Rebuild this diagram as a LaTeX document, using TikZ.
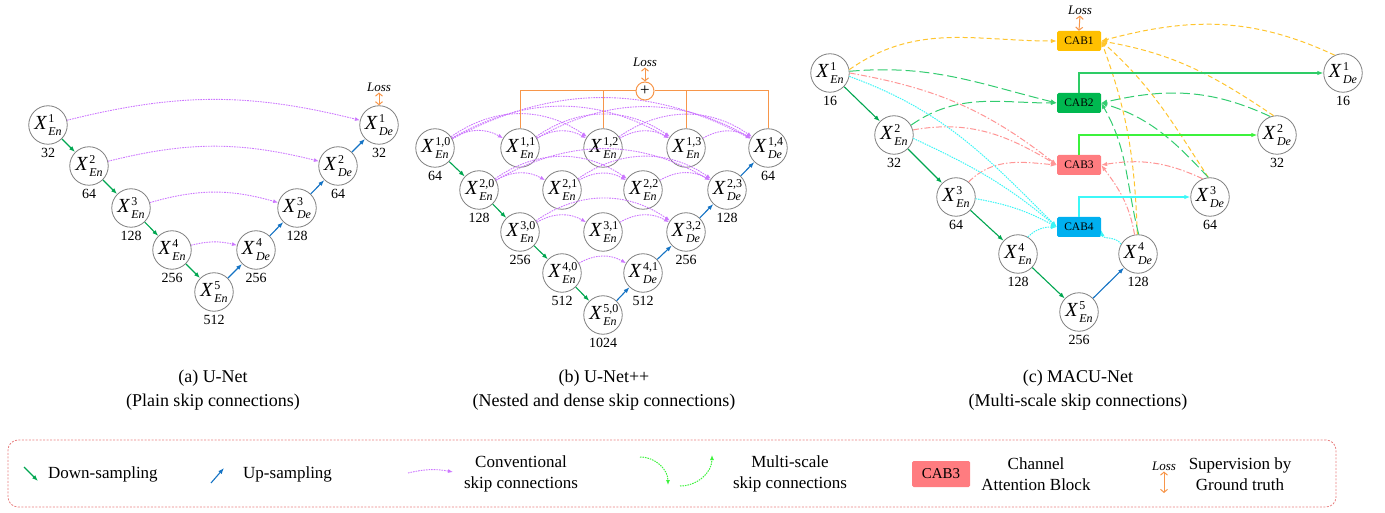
\documentclass[tikz,border=0pt]{standalone}
\usepackage{fontspec}
\setmainfont{Liberation Serif}
\usetikzlibrary{arrows.meta,calc}

\definecolor{cgray}{HTML}{808080}
\definecolor{cdown}{HTML}{00A650}
\definecolor{cup}{HTML}{1473C4}
\definecolor{cskip}{HTML}{CC77FF}
\definecolor{closs}{HTML}{F7964A}
\definecolor{cabA}{HTML}{FFC000}
\definecolor{cabB}{HTML}{00B850}
\definecolor{cabC}{HTML}{FF7C80}
\definecolor{cabD}{HTML}{00B0F0}
\definecolor{lineA}{HTML}{FFC52E}
\definecolor{lineB}{HTML}{33CC70}
\definecolor{lineC}{HTML}{FF9696}
\definecolor{lineD}{HTML}{3CF5F5}
\definecolor{outB}{HTML}{2ECC66}
\definecolor{outC}{HTML}{3CF23C}
\definecolor{outD}{HTML}{3CF8F8}
\definecolor{legframe}{HTML}{E88080}

% one feature map: italic X with level superscript and En/De subscript
\newcommand\xl[2]{\textit{X}\kern1.2pt%
  \rlap{\raisebox{7.3pt}{\fontsize{12}{12}\selectfont #1}}%
  \raisebox{-6.5pt}{\fontsize{12}{12}\selectfont\itshape #2}}
% name, x, y (downwards), superscript, subscript, channel count
\newcommand\mknode[6]{%
  \node[fmap] (#1) at (#2,-#3) {\xl{#4}{#5}};
  \node[chnum] (#1n) at (#2,-#3-28) {#6};}

\begin{document}
\begin{tikzpicture}[x=1pt,y=1pt,
  fmap/.style={circle, draw=cgray, line width=0.8pt, minimum size=38.5pt, inner sep=0pt, fill=white,
    font=\fontsize{20}{24}\selectfont},
  chnum/.style={inner sep=0pt, font=\fontsize{14}{16}\selectfont},
  arrtip/.style={-{Latex[length=6pt,width=4.5pt]}},
  dsamp/.style={draw=cdown, line width=1.1pt, arrtip},
  usamp/.style={draw=cup, line width=1.1pt, arrtip},
  skipc/.style={draw=cskip, line width=0.9pt, dash pattern=on 1.6pt off 1pt, -{Latex[length=5pt,width=4pt]}},
  lossarr/.style={draw=closs, line width=1pt,
    {Straight Barb[length=3pt,width=7pt]}-{Straight Barb[length=3pt,width=7pt]}},
  losst/.style={inner sep=1pt, font=\fontsize{13}{14}\selectfont\itshape},
  sumnode/.style={circle, draw=closs, line width=1pt, fill=white, minimum size=18pt, inner sep=0pt,
    font=\fontsize{17}{17}\selectfont},
  sumline/.style={draw=closs, line width=1pt},
  cabbox/.style={rectangle, rounded corners=1.5pt, minimum width=44pt, minimum height=20pt, inner sep=0pt,
    font=\fontsize{11.5}{13}\selectfont},
  msA/.style={draw=lineA, line width=1pt, dash pattern=on 5pt off 3pt, -{Latex[length=6pt,width=4.5pt]}},
  msB/.style={draw=lineB, line width=1pt, dash pattern=on 10pt off 4pt, -{Latex[length=6pt,width=4.5pt]}},
  msC/.style={draw=lineC, line width=1pt, dash pattern=on 6pt off 2pt on 1.5pt off 2pt, -{Latex[length=6pt,width=4.5pt]}},
  msD/.style={draw=lineD, line width=1pt, dash pattern=on 1.5pt off 1pt, -{Latex[length=6pt,width=4.5pt]}},
  captxt/.style={align=center, font=\fontsize{18}{24}\selectfont},
  legtxt/.style={align=center, inner sep=0pt, font=\fontsize{17}{21}\selectfont},
  legdot/.style={draw=outC, line width=1pt, dash pattern=on 1.5pt off 1pt, -{Latex[length=5pt,width=4pt]}}
]
\useasboundingbox (0,0) rectangle (1385,-513);

% ---------------- (a) U-Net ----------------
\mknode{e1}{48}{125}{1}{En}{32}
\mknode{e2}{89}{166}{2}{En}{64}
\mknode{e3}{131}{208}{3}{En}{128}
\mknode{e4}{172}{250}{4}{En}{256}
\mknode{e5}{214}{292}{5}{En}{512}
\mknode{d4}{256}{250}{4}{De}{256}
\mknode{d3}{297}{208}{3}{De}{128}
\mknode{d2}{338}{166}{2}{De}{64}
\mknode{d1}{379}{125}{1}{De}{32}

\draw[dsamp] (e1) -- (e2);
\draw[dsamp] (e2) -- (e3);
\draw[dsamp] (e3) -- (e4);
\draw[dsamp] (e4) -- (e5);
\draw[usamp] (e5) -- (d4);
\draw[usamp] (d4) -- (d3);
\draw[usamp] (d3) -- (d2);
\draw[usamp] (d2) -- (d1);

\draw[skipc] (e1) to[bend left=14] (d1);
\draw[skipc] (e2) to[bend left=14] (d2);
\draw[skipc] (e3) to[bend left=16] (d3);
\draw[skipc] (e4) to[bend left=14] (d4);

\node[losst] (lossa) at (379,-87) {Loss};
\draw[lossarr] (lossa.south) -- (d1.north);

\node[captxt] (capa) at (213,-390) {(a) U-Net\\(Plain skip connections)};

% ---------------- (b) U-Net++ ----------------
\mknode{b10}{435}{148}{1,0}{En}{64}
\mknode{b11}{520}{148}{1,1}{En}{}
\mknode{b12}{603}{148}{1,2}{En}{}
\mknode{b13}{686}{148}{1,3}{En}{}
\mknode{b14}{768}{148}{1,4}{De}{64}
\mknode{b20}{479}{190}{2,0}{En}{128}
\mknode{b21}{562}{190}{2,1}{En}{}
\mknode{b22}{643}{190}{2,2}{En}{}
\mknode{b23}{727}{190}{2,3}{De}{128}
\mknode{b30}{520}{232}{3,0}{En}{256}
\mknode{b31}{603}{232}{3,1}{En}{}
\mknode{b32}{686}{232}{3,2}{De}{256}
\mknode{b40}{562}{273}{4,0}{En}{512}
\mknode{b41}{643}{273}{4,1}{De}{512}
\mknode{b50}{603}{315}{5,0}{En}{1024}

\foreach \a/\b/\t in {b10/b11/30, b11/b12/30, b12/b13/30, b13/b14/30,
                      b10/b12/35, b11/b13/35, b12/b14/35,
                      b10/b13/30, b11/b14/30, b10/b14/28,
                      b20/b21/30, b21/b22/30, b22/b23/30,
                      b20/b22/35, b21/b23/35, b20/b23/30,
                      b30/b31/30, b31/b32/30, b30/b32/35,
                      b40/b41/30}
  \draw[skipc] (\a) to[bend left=\t] (\b);

\draw[dsamp] (b10) -- (b20);
\draw[dsamp] (b20) -- (b30);
\draw[dsamp] (b30) -- (b40);
\draw[dsamp] (b40) -- (b50);
\draw[usamp] (b50) -- (b41);
\draw[usamp] (b41) -- (b32);
\draw[usamp] (b32) -- (b23);
\draw[usamp] (b23) -- (b14);

\node[sumnode] (sum) at (645,-91) {+};
\draw[sumline] (b11.north) |- (sum.west);
\draw[sumline] (b12.north) |- (sum.west);
\draw[sumline] (b13.north) |- (sum.east);
\draw[sumline] (b14.north) |- (sum.east);
\node[losst] (lossb) at (645,-62) {Loss};
\draw[lossarr] (lossb.south) -- (sum.north);

\node[captxt] (capb) at (604,-390) {(b) U-Net++\\(Nested and dense skip connections)};

% ---------------- (c) MACU-Net ----------------
\mknode{c1}{830}{73}{1}{En}{16}
\mknode{c2}{894}{135}{2}{En}{32}
\mknode{c3}{956}{197}{3}{En}{64}
\mknode{c4}{1018}{254}{4}{En}{128}
\mknode{c5}{1079}{312}{5}{En}{256}
\mknode{f4}{1138}{254}{4}{De}{128}
\mknode{f3}{1210}{197}{3}{De}{64}
\mknode{f2}{1277}{135}{2}{De}{32}
\mknode{f1}{1343}{73}{1}{De}{16}

\node[cabbox, fill=cabA] (k1) at (1079,-41) {CAB1};
\node[cabbox, fill=cabB] (k2) at (1079,-103) {CAB2};
\node[cabbox, fill=cabC] (k3) at (1079,-165) {CAB3};
\node[cabbox, fill=cabD] (k4) at (1079,-227) {CAB4};

% multi-scale inputs of CAB1
\draw[msA] (c1.10) to[out=35,in=180] (k1.west);
\draw[msA] (f1.115) to[out=155,in=15] (k1.east);
\draw[msA] (f2.100) to[out=146,in=-10] (k1.east);
\draw[msA] (f3.95) to[out=123,in=-42] (k1.east);
\draw[msA] (f4.92) to[out=92,in=-70] (k1.east);
% multi-scale inputs of CAB2
\draw[msB] (c1.5) to[out=5,in=166] (k2.west);
\draw[msB] (c2.30) to[out=35,in=180] (k2.west);
\draw[msB] (f2.110) to[out=155,in=13] (k2.east);
\draw[msB] (f3.95) to[out=133,in=-17] (k2.east);
\draw[msB] (f4.88) to[out=104,in=-60] (k2.east);
% multi-scale inputs of CAB3
\draw[msC] (c1.0) to[out=-10,in=142] (k3.west);
\draw[msC] (c2.15) to[out=10,in=149] (k3.west);
\draw[msC] (c3.50) to[out=45,in=175] (k3.west);
\draw[msC] (f3.112) to[out=155,in=9] (k3.east);
\draw[msC] (f4.100) to[out=100,in=-53] (k3.east);
% multi-scale inputs of CAB4
\draw[msD] (c1.-10) to[out=-20,in=135] (k4.west);
\draw[msD] (c2.-10) to[out=-25,in=140] (k4.west);
\draw[msD] (c3.-5) to[out=-10,in=152] (k4.west);
\draw[msD] (c4.60) to[out=45,in=180] (k4.west);
\draw[msD] (f4.150) to[out=120,in=-80] (k4.-8);

% attention outputs to the decoder
\draw[draw=outB, line width=1.5pt, arrtip] (k2.north) |- (f1.west);
\draw[draw=outC, line width=2pt, arrtip] (k3.north) |- (f2.west);
\draw[draw=outD, line width=2.4pt, arrtip] (k4.north) |- (f3.west);

\draw[dsamp] (c1) -- (c2);
\draw[dsamp] (c2) -- (c3);
\draw[dsamp] (c3) -- (c4);
\draw[dsamp] (c4) -- (c5);
\draw[usamp] (c5) -- (f4);

\node[losst] (lossc) at (1080,-10) {Loss};
\draw[lossarr] (lossc.south) -- (k1.north);

\node[captxt] (capc) at (1078,-390) {(c) MACU-Net\\(Multi-scale skip connections)};

% ---------------- legend ----------------
\node[draw=legframe, line width=0.8pt, dash pattern=on 2pt off 1.5pt, rounded corners=10pt,
      minimum width=1328pt, minimum height=67pt, inner sep=0pt] (legend) at (672,-473.5) {};

\coordinate (gdA) at (24,-467);
\coordinate (gdB) at (38,-481);
\draw[dsamp] (gdA) -- (gdB);
\node[legtxt, anchor=west] (ltdown) at (48,-474) {Down-sampling};

\coordinate (buA) at (211,-483);
\coordinate (buB) at (224,-468);
\draw[usamp] (buA) -- (buB);
\node[legtxt, anchor=west] (ltup) at (243,-474) {Up-sampling};

\coordinate (skA) at (408,-473);
\coordinate (skB) at (453,-472);
\draw[skipc] (skA) to[bend left=12] (skB);
\node[legtxt] (ltskip) at (521,-474) {Conventional\\skip connections};

\coordinate (mA) at (640,-457);
\coordinate (mB) at (668,-485);
\coordinate (mC) at (680,-486);
\coordinate (mD) at (712,-455);
\draw[legdot] (mA) to[out=0,in=90] (mB);
\draw[legdot] (mC) to[out=0,in=-90] (mD);
\node[legtxt] (ltms) at (790,-474) {Multi-scale\\skip connections};

\node[cabbox, fill=cabC, minimum width=58pt, minimum height=26pt, font=\fontsize{15}{16}\selectfont] (lcab) at (941,-474) {CAB3};
\node[legtxt] (ltcab) at (1036,-474) {Channel\\Attention Block};

\node[losst] (lloss) at (1164,-466) {Loss};
\coordinate (llB) at (1164,-493);
\draw[lossarr] (lloss.south) -- (llB);
\node[legtxt] (ltsup) at (1240,-474) {Supervision by\\Ground truth};
\end{tikzpicture}
\end{document}
